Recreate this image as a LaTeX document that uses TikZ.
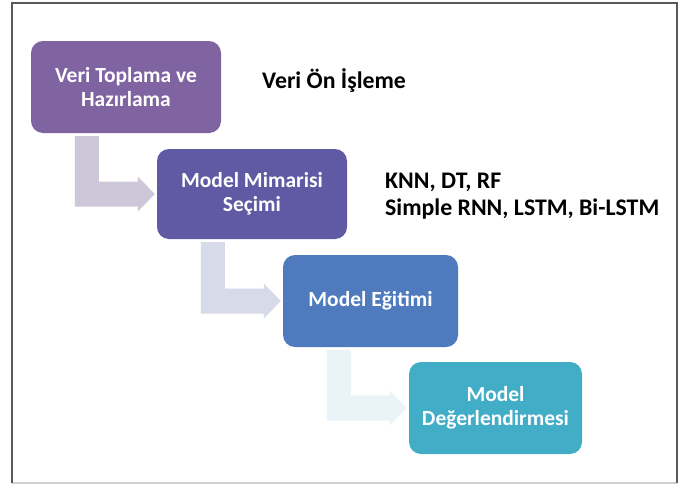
\documentclass[tikz,border=0pt]{standalone}
\usepackage{fontspec}
\setmainfont{Carlito}
\usetikzlibrary{calc}
\definecolor{cA}{HTML}{8064A2}
\definecolor{cB}{HTML}{5F5AA3}
\definecolor{cC}{HTML}{4F7BBE}
\definecolor{cD}{HTML}{42ADC7}
\definecolor{aA}{HTML}{CEC7DA}
\definecolor{aB}{HTML}{D6DAE9}
\definecolor{aC}{HTML}{EAF3F8}
\definecolor{frameDark}{HTML}{595959}
\definecolor{frameLight}{HTML}{D0D0D0}
\tikzset{
  stepbox/.style={rectangle, rounded corners=12pt, draw=none, text=white,
    font=\fontsize{21.5}{24}\selectfont\bfseries, align=center, inner sep=0pt},
  note/.style={anchor=west, text=black, font=\fontsize{23.8}{27}\selectfont\bfseries, align=left, inner sep=0pt}
}
\newcommand{\elbow}[3]{%
  \fill[#3] ($(#1.south west)+(44,3)$) -- ($(#1.south west)+(68,3)$)
    |- ($(#2.west)+(-19,-12.5)$) -- ($(#2.west)+(-19,-17.5)$)
    -- ($(#2.west)+(-2,0)$) -- ($(#2.west)+(-19,17.5)$)
    -- ($(#2.west)+(-19,12.5)$) -| ($(#1.south west)+(44,3)$) -- cycle;}
\begin{document}
\begin{tikzpicture}[x=1pt,y=-1pt]
\useasboundingbox (0,0) rectangle (686,485);
\fill[white] (0,0) rectangle (686,485);
% frame
\coordinate (tl) at (12,3);
\coordinate (tr) at (677,3);
\coordinate (bl) at (12,483);
\coordinate (br) at (677,483);
\draw[frameLight, line width=1.5pt] (bl) -- (br);
\draw[frameDark, line width=2pt] (bl) -- (tl) -- (tr) -- (br);
% boxes
\node[stepbox, fill=cA, minimum width=190, minimum height=92] (b1) at (126,87) {Veri Toplama ve\\Hazırlama};
\node[stepbox, fill=cB, minimum width=190, minimum height=90] (b2) at (252,194) {Model Mimarisi\\Seçimi};
\node[stepbox, fill=cC, minimum width=175, minimum height=92] (b3) at (370.5,301) {Model Eğitimi};
\node[stepbox, fill=cD, minimum width=173, minimum height=92] (b4) at (495.5,408) {Model\\Değerlendirmesi};
% arrows
\elbow{b1}{b2}{aA}
\elbow{b2}{b3}{aB}
\elbow{b3}{b4}{aC}
% notes
\node[note] (n1) at (262,81) {Veri Ön İşleme};
\node[note] (n2) at (385,196) {KNN, DT, RF\\Simple RNN, LSTM, Bi-LSTM};
\end{tikzpicture}
\end{document}
